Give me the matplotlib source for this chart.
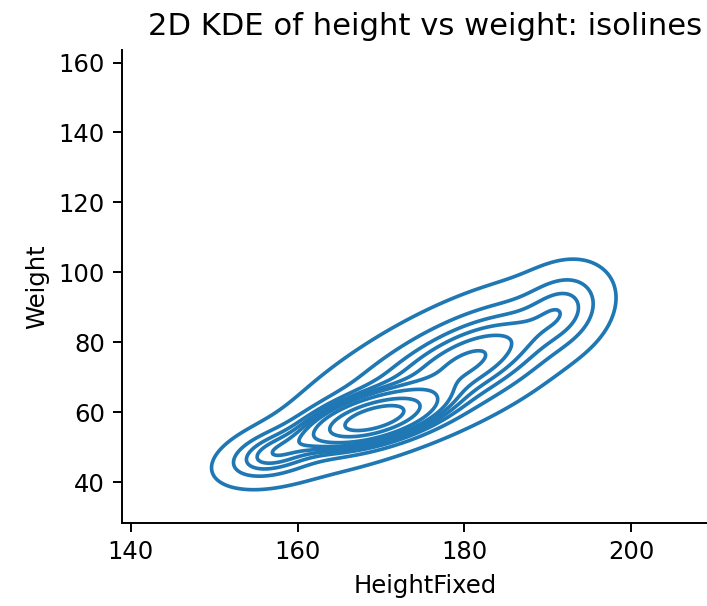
import numpy as np
import matplotlib
matplotlib.use("Agg")
import matplotlib.pyplot as plt

# mixture components (height cm, weight kg)
comp_height = [169.0, 182.0, 174.0, 157.0, 192.0]
comp_weight = [58.0, 75.0, 69.0, 48.0, 90.0]
comp_sd_height = [4.5, 6.5, 10.0, 3.5, 3.0]
comp_sd_weight = [4.5, 10.0, 15.0, 4.5, 7.0]
comp_corr = [0.55, 0.6, 0.76, 0.4, 0.2]
comp_weight_frac = [0.34, 0.22, 0.32, 0.06, 0.05]

x_ticks = [140, 160, 180, 200]
y_ticks = [40, 60, 80, 100, 120, 140, 160]
n_levels = 10
thresh = 0.05


def mixture_density(xx, yy):
    # 混合ガウスで密度を作る
    z = np.zeros_like(xx)
    for mx, my, sx, sy, r, w in zip(comp_height, comp_weight, comp_sd_height,
                                    comp_sd_weight, comp_corr, comp_weight_frac):
        dx = (xx - mx) / sx
        dy = (yy - my) / sy
        q = (dx ** 2 - 2 * r * dx * dy + dy ** 2) / (1 - r ** 2)
        z += w * np.exp(-0.5 * q) / (2 * np.pi * sx * sy * np.sqrt(1 - r ** 2))
    return z


def quantile_to_level(z, quantiles):
    # seaborn と同じ iso-proportion のレベル
    vals = np.sort(z.ravel())[::-1]
    norm = np.cumsum(vals) / vals.sum()
    idx = np.searchsorted(norm, 1 - np.asarray(quantiles))
    return np.take(vals, idx, mode="clip")


dpi = 175
fig = plt.figure(figsize=(708 / dpi, 606 / dpi), dpi=dpi)
ax = fig.add_axes([0.1723, 0.1365, 0.856, 0.781])

gx = np.linspace(130, 220, 300)
gy = np.linspace(20, 130, 300)
xx, yy = np.meshgrid(gx, gy)
zz = mixture_density(xx, yy)
levels = np.unique(quantile_to_level(zz, np.linspace(thresh, 1, n_levels)))
ax.contour(xx, yy, zz, levels=levels, colors="#1f77b4", linewidths=1.5)

ax.set_xlim(138.96, 211.6)
ax.set_ylim(28.2, 163.6)
ax.set_xticks(x_ticks)
ax.set_yticks(y_ticks)
ax.spines["top"].set_visible(False)
ax.spines["right"].set_visible(False)
ax.set_xlabel("HeightFixed")
ax.set_ylabel("Weight")
ax.set_title("2D KDE of height vs weight: isolines", fontsize=12.6)

fig.savefig("out.png", dpi=dpi)
